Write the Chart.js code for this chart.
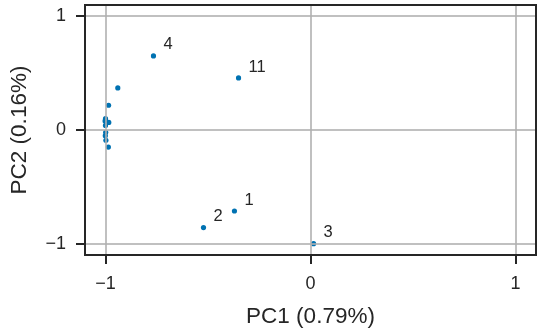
<!DOCTYPE html>
<html>
<head>
<meta charset="utf-8">
<script src="https://cdn.jsdelivr.net/npm/chart.js@4"></script>
<style>
  html, body { margin: 0; padding: 0; background: #fff; }
  #wrap { width: 541px; height: 330px; }
</style>
</head>
<body>
<div id="wrap"><canvas id="pca"></canvas></div>
<script>
// scores
const pc1 = [-0.371, -0.522, 0.015, -0.766, -0.351, -0.940, -0.985, -0.984, -1.000, -1.002, -1.000, -0.999, -1.001, -0.998, -0.986]
const pc2 = [-0.713, -0.859, -1.000, 0.652, 0.458, 0.370, 0.218, 0.067, 0.100, 0.080, 0.040, -0.020, -0.050, -0.090, -0.150]
const point_labels = ['1', '2', '3', '4', '11', '', '', '', '', '', '', '', '', '', '']
const tick_values = [-1, 0, 1]
const x_title = 'PC1 (0.79%)'
const y_title = 'PC2 (0.16%)'

const points = pc1.map((x, i) => ({ x: x, y: pc2[i] }))

const box = {
    id: 'box',
    afterDraw(chart) {
        const { ctx, chartArea: a } = chart
        ctx.save()
        ctx.strokeStyle = '#262626'
        ctx.lineWidth = 2
        ctx.strokeRect(a.left, a.top, a.right - a.left, a.bottom - a.top)
        ctx.restore()
    }
}

const names = {
    id: 'names',
    afterDatasetsDraw(chart) {
        const { ctx } = chart
        const meta = chart.getDatasetMeta(0)
        ctx.save()
        ctx.fillStyle = '#262626'
        ctx.font = '16.5px "Liberation Sans", Arial, sans-serif'
        ctx.textAlign = 'left'
        ctx.textBaseline = 'middle'
        meta.data.forEach((pt, i) => {
            if (point_labels[i]) ctx.fillText(point_labels[i], pt.x + 10, pt.y - 11)
        })
        ctx.restore()
    }
}

const minus = v => String(v).replace('-', '\u2212')

// drop the room Chart.js keeps for edge labels, the box is fixed below
const no_edge = s => {
    s.paddingTop = 0
    s.paddingBottom = 0
    s.paddingLeft = 0
    s.paddingRight = 0
}

new Chart(document.getElementById('pca'), {
    type: 'scatter',
    data: {
        datasets: [{
            data: points,
            backgroundColor: '#0072B2',
            borderWidth: 0,
            pointRadius: 2.6,
            pointHoverRadius: 2.6
        }]
    },
    options: {
        responsive: true,
        maintainAspectRatio: false,
        animation: false,
        events: [],
        layout: { padding: { top: 5, right: 5, left: 0, bottom: 0 } },
        plugins: { legend: { display: false }, tooltip: { enabled: false } },
        scales: {
            x: {
                min: -1.1,
                max: 1.1,
                afterBuildTicks: s => { s.ticks = tick_values.map(v => ({ value: v })) },
                afterFit: s => { s.height = 75; no_edge(s) },
                grid: { z: 1, color: 'rgba(176,176,176,0.8)', lineWidth: 2, tickColor: '#262626', tickWidth: 2, tickLength: 9 },
                border: { display: false },
                ticks: {
                    padding: 9,
                    color: '#262626',
                    font: { family: '"Liberation Sans", Arial, sans-serif', size: 18 },
                    callback: v => minus(v)
                },
                title: {
                    display: true,
                    text: x_title,
                    color: '#262626',
                    font: { family: '"Liberation Sans", Arial, sans-serif', size: 22.5 },
                    padding: { top: 0, bottom: 0 }
                }
            },
            y: {
                min: -1.1,
                max: 1.1,
                afterBuildTicks: s => { s.ticks = tick_values.map(v => ({ value: v })) },
                afterFit: s => { s.width = 85; no_edge(s) },
                grid: { z: 1, color: 'rgba(176,176,176,0.8)', lineWidth: 2, tickColor: '#262626', tickWidth: 2, tickLength: 9 },
                border: { display: false },
                ticks: {
                    padding: 10,
                    color: '#262626',
                    font: { family: '"Liberation Sans", Arial, sans-serif', size: 18 },
                    callback: v => minus(v)
                },
                title: {
                    display: true,
                    text: y_title,
                    color: '#262626',
                    font: { family: '"Liberation Sans", Arial, sans-serif', size: 22.5 },
                    padding: { top: 6, bottom: 0 }
                }
            }
        }
    },
    plugins: [box, names]
})
</script>
</body>
</html>
